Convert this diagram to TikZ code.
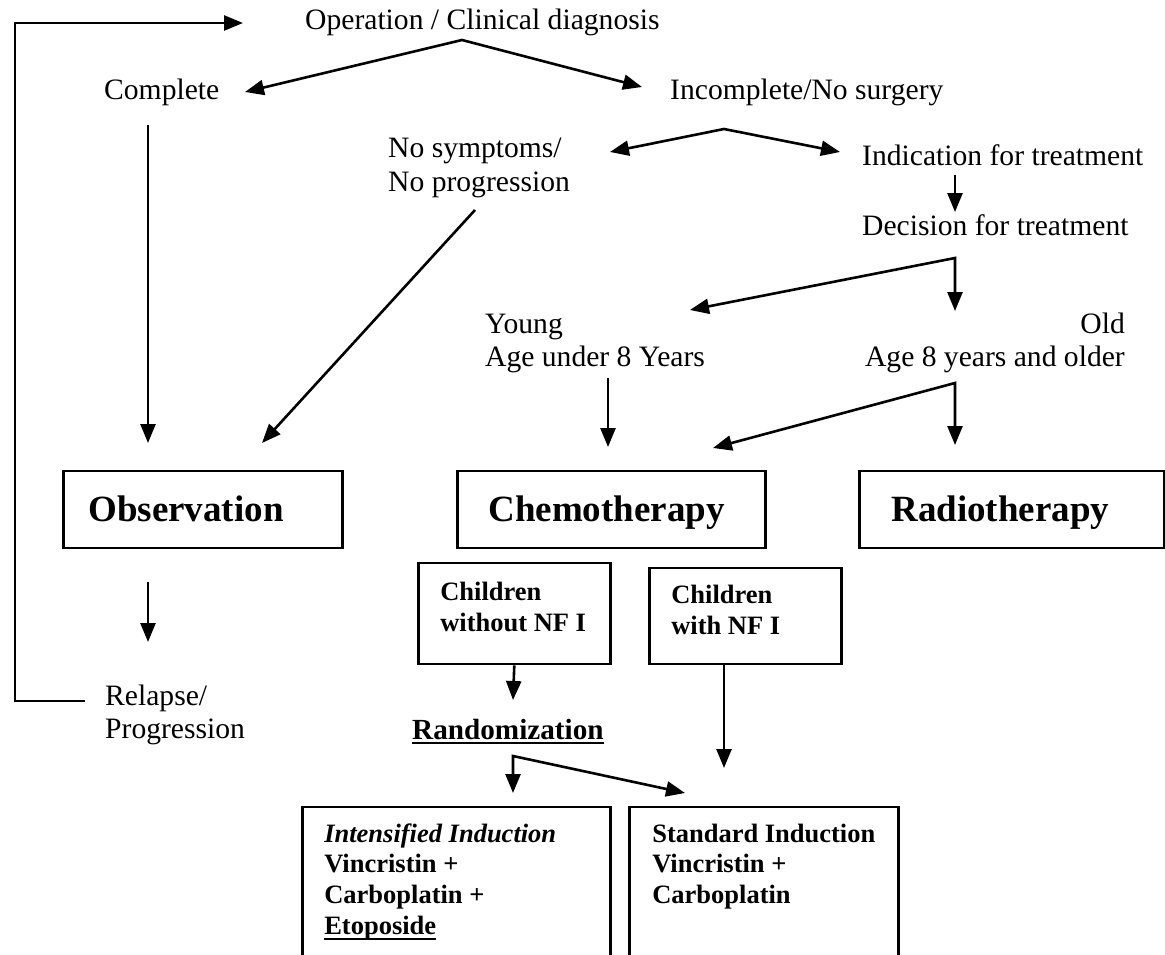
\documentclass[tikz,border=0pt]{standalone}
\usepackage{fontspec}
\setmainfont{Liberation Serif}
\usetikzlibrary{arrows.meta}
\newcommand\myul[2][-5.5pt]{\setbox0\hbox{#2}\rlap{\rule[#1]{\wd0}{2.2pt}}\box0}
\newcommand\mylines[2][l]{\begin{tabular}[t]{@{}#1@{}}#2\end{tabular}}
\tikzset{
  lbl/.style={inner sep=0pt, anchor=base west, font=\fontsize{29.6}{33.5}\selectfont},
  lblr/.style={inner sep=0pt, anchor=base east, font=\fontsize{29.6}{33.5}\selectfont},
  bigbox/.style={draw, line width=2.6pt, inner ysep=0pt, inner xsep=31pt, anchor=base west,
    font=\fontsize{37}{44}\selectfont\bfseries, text height=50pt, text depth=27pt},
  smallbox/.style={draw, line width=2.6pt, inner ysep=0pt, inner xsep=22pt, anchor=base west,
    font=\fontsize{26.5}{31}\selectfont\bfseries},
  tip/.tip={Triangle[length=19pt,width=15pt]},
  arr/.style={line width=2.6pt, -tip},
  darr/.style={line width=2.6pt, tip-tip},
  ln/.style={line width=2.6pt}
}
\begin{document}
\begin{tikzpicture}[x=1pt,y=-1pt]
\useasboundingbox (0,0) rectangle (1165,955);
% ---- text labels
\node[lbl] (op) at (305,30) {Operation / Clinical diagnosis};
\node[lbl] (complete) at (104,100) {Complete};
\node[lbl] (incomplete) at (670,100) {Incomplete/No surgery};
\node[lbl] (nosym) at (388,158) {\mylines{No symptoms/\\No progression}};
\node[lbl] (indic) at (862,165) {Indication for treatment};
\node[lbl] (decis) at (862,235) {Decision for treatment};
\node[lbl] (young) at (485,333) {\mylines{Young\\Age under 8 Years}};
\node[lblr] (old) at (1125,333) {\mylines[r]{Old\\Age 8 years and older}};
\node[lbl] (relapse) at (105,705) {\mylines{Relapse/\\Progression}};
\node[lbl, font=\fontsize{29.2}{34}\selectfont\bfseries] (rand) at (412,739) {\myul[-5pt]{Randomization}};
% ---- boxes
\node[bigbox, inner xsep=25pt] (obs) at (62,521) {\makebox[229pt][l]{Observation}};
\node[bigbox] (chemo) at (456,521) {\makebox[246pt][l]{Chemotherapy}};
\node[bigbox, inner xsep=32pt] (radio) at (858,521) {\makebox[241pt][l]{Radiotherapy}};
\node[smallbox, text height=37pt, text depth=64pt] (cwo) at (417,600)
  {\parbox[t]{148pt}{Children\\without NF I}};
\node[smallbox, text height=35pt, text depth=61pt] (cw) at (648,603)
  {\parbox[t]{148pt}{Children\\with NF I}};
\node[smallbox, text height=35pt, text depth=200pt, font=\fontsize{26.5}{30.7}\selectfont\bfseries] (intens) at (301,842)
  {\parbox[t]{264pt}{\textit{Intensified Induction}\\Vincristin +\\Carboplatin +\\\myul[-6pt]{Etoposide}}};
\node[smallbox, inner xsep=23pt, text height=35pt, text depth=200pt, font=\fontsize{26.5}{30.7}\selectfont\bfseries] (std) at (628,842)
  {\parbox[t]{223pt}{Standard Induction\\Vincristin +\\Carboplatin}};
% ---- coordinates
\coordinate (relL) at (85,701);
\coordinate (loopB) at (15,701);
\coordinate (loopT) at (15,23);
\coordinate (topTip) at (243,23);
\coordinate (f1) at (462,40);
\coordinate (f1a) at (245,92);
\coordinate (f1b) at (642,87);
\coordinate (c1) at (148,125);
\coordinate (c2) at (148,443);
\coordinate (f2) at (724,129);
\coordinate (f2a) at (610,152);
\coordinate (f2b) at (840,152);
\coordinate (np1) at (475,210);
\coordinate (np2) at (262,443);
\coordinate (i1) at (955,175);
\coordinate (i2) at (955,212);
\coordinate (f3) at (955,258);
\coordinate (f3a) at (690,310);
\coordinate (f3b) at (955,311);
\coordinate (y1) at (608,378);
\coordinate (y2) at (608,447);
\coordinate (f4) at (955,383);
\coordinate (f4a) at (713,448);
\coordinate (f4b) at (955,445);
\coordinate (o1) at (148,582);
\coordinate (o2) at (148,642);
\coordinate (r1) at (513,700);
\coordinate (w1) at (724,664);
\coordinate (w2) at (724,768);
\coordinate (fr) at (513,756);
\coordinate (fra) at (513,793);
\coordinate (frb) at (685,793);
% ---- connectors
\draw[arr] (relL) -- (loopB) -- (loopT) -- (topTip);
\draw[darr] (f1a) -- (f1) -- (f1b);
\draw[arr] (c1) -- (c2);
\draw[darr] (f2a) -- (f2) -- (f2b);
\draw[arr] (np1) -- (np2);
\draw[arr] (i1) -- (i2);
\draw[darr] (f3a) -- (f3) -- (f3b);
\draw[arr] (y1) -- (y2);
\draw[darr] (f4a) -- (f4) -- (f4b);
\draw[arr] (o1) -- (o2);
\draw[arr] (cwo.south) -- (r1);
\draw[arr] (w1) -- (w2);
\draw[darr] (fra) -- (fr) -- (frb);
\end{tikzpicture}
\end{document}
